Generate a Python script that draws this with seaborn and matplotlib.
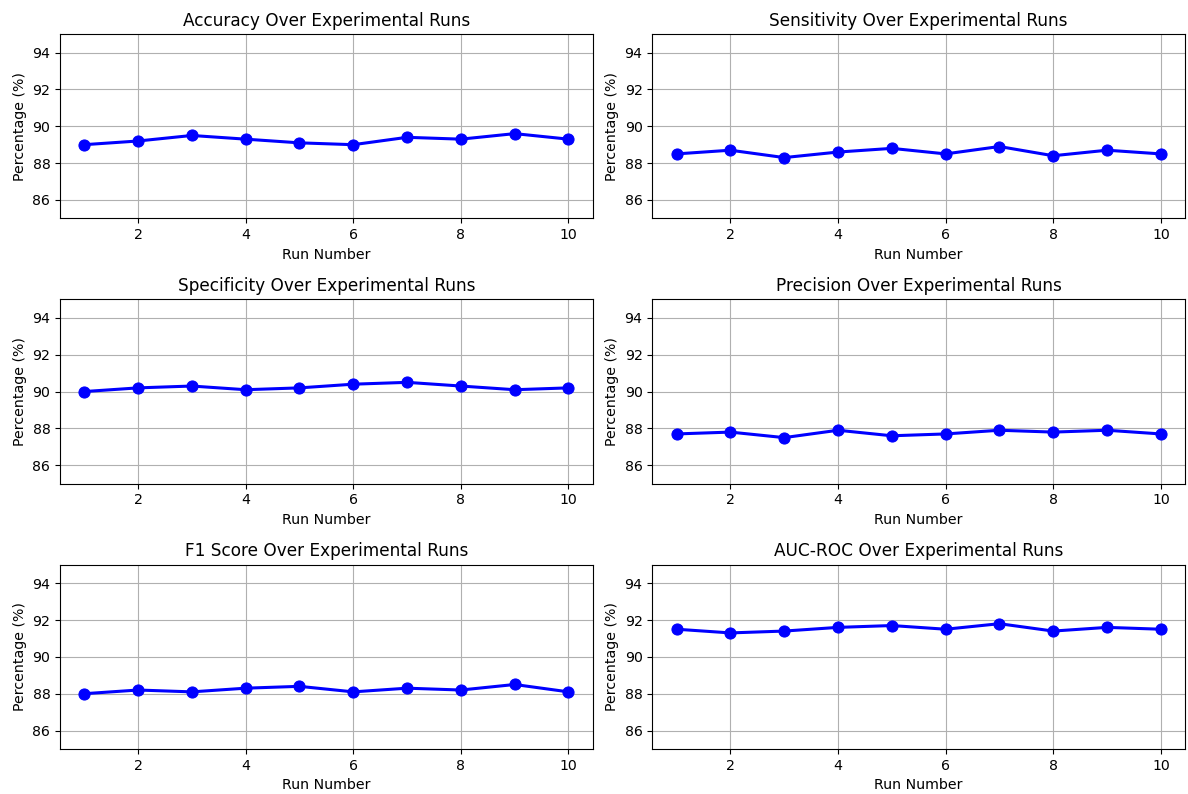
import matplotlib
matplotlib.use("Agg")
import matplotlib.pyplot as plt
import seaborn as sns
import pandas as pd

runs = [1, 2, 3, 4, 5, 6, 7, 8, 9, 10]
accuracy = [89.0, 89.2, 89.5, 89.3, 89.1, 89.0, 89.4, 89.3, 89.6, 89.3]
sensitivity = [88.5, 88.7, 88.3, 88.6, 88.8, 88.5, 88.9, 88.4, 88.7, 88.5]
specificity = [90.0, 90.2, 90.3, 90.1, 90.2, 90.4, 90.5, 90.3, 90.1, 90.2]
precision = [87.7, 87.8, 87.5, 87.9, 87.6, 87.7, 87.9, 87.8, 87.9, 87.7]
f1_score = [88.0, 88.2, 88.1, 88.3, 88.4, 88.1, 88.3, 88.2, 88.5, 88.1]
auc_roc = [91.5, 91.3, 91.4, 91.6, 91.7, 91.5, 91.8, 91.4, 91.6, 91.5]

metric_names = ["Accuracy", "Sensitivity", "Specificity", "Precision", "F1 Score", "AUC-ROC"]
metric_values = [accuracy, sensitivity, specificity, precision, f1_score, auc_roc]

plt.rcParams['font.family'] = ['DejaVu Sans']
fig, axes = plt.subplots(3, 2, figsize=(11.88, 7.94), dpi=100)
for ax, name, vals in zip(axes.flat, metric_names, metric_values):
    df = pd.DataFrame({"Run": runs, "Value": vals})
    sns.lineplot(data=df, x="Run", y="Value", ax=ax, color="blue", marker="o",
                 markersize=8, linewidth=2.2, markeredgecolor="blue")
    ax.set_title(f"{name} Over Experimental Runs", fontsize=12.2)
    ax.set_xlabel("Run Number", fontsize=10.2)
    ax.set_ylabel("Percentage (%)", fontsize=10.2)
    ax.tick_params(labelsize=10.2)
    ax.set_ylim(85, 95)
    ax.set_yticks([86, 88, 90, 92, 94])
    ax.grid(True)
fig.subplots_adjust(left=0.0505, right=0.9975, top=0.957, bottom=0.0567,
                    wspace=0.112, hspace=0.44)
fig.savefig("out.png", dpi=100)
